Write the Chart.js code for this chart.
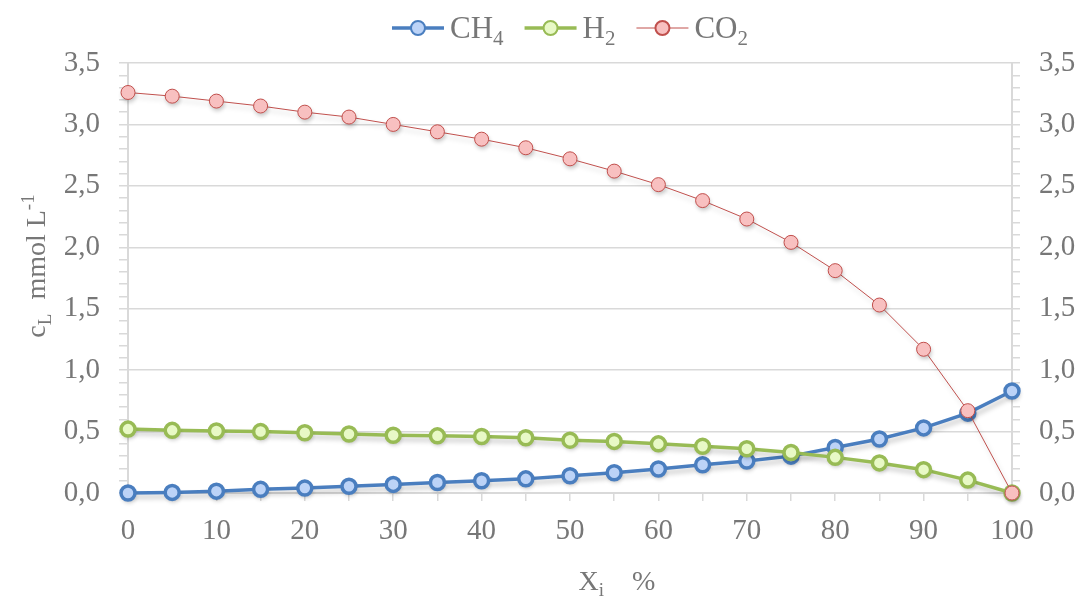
<!DOCTYPE html>
<html>
<head>
<meta charset="utf-8">
<script src="https://cdn.jsdelivr.net/npm/chart.js@4"></script>
<style>
  html, body { margin: 0; padding: 0; background: #fff; }
  #wrap { width: 1082px; height: 597px; }
</style>
</head>
<body>
<div id="wrap"><canvas id="chart"></canvas></div>
<script>
// data
var xValues = [0, 5, 10, 15, 20, 25, 30, 35, 40, 45, 50, 55, 60, 65, 70, 75, 80, 85, 90, 95, 100];
var ch4 = [0.00, 0.005, 0.015, 0.03, 0.04, 0.055, 0.07, 0.085, 0.10, 0.115, 0.14, 0.165, 0.195, 0.23, 0.26, 0.30, 0.37, 0.44, 0.53, 0.65, 0.83];
var h2 = [0.52, 0.51, 0.505, 0.50, 0.49, 0.48, 0.47, 0.465, 0.46, 0.45, 0.43, 0.42, 0.40, 0.38, 0.36, 0.33, 0.29, 0.245, 0.19, 0.105, 0.00];
var co2 = [3.26, 3.23, 3.19, 3.15, 3.10, 3.06, 3.00, 2.94, 2.88, 2.81, 2.72, 2.62, 2.51, 2.38, 2.23, 2.04, 1.81, 1.53, 1.17, 0.67, 0.00];
var seriesNames = ['CH4', 'H2', 'CO2'];

var FONT = "'Liberation Serif', 'Times New Roman', serif";
var TEXT = '#777777';
var GRID = '#d9d9d9';

function pts(ys) {
    return xValues.map(function (x, i) { return { x: x, y: ys[i] }; });
}

// draw text made of parts, some of them sub- or superscript
function partSize(p, size) {
    return p.sub || p.sup ? Math.round(size * 0.68) : size;
}
function richWidth(ctx, parts, size) {
    var w = 0;
    parts.forEach(function (p) {
        ctx.font = partSize(p, size) + 'px ' + FONT;
        w += ctx.measureText(p.t).width;
    });
    return w;
}
function drawRich(ctx, parts, x, y, size) {
    parts.forEach(function (p) {
        ctx.font = partSize(p, size) + 'px ' + FONT;
        var dy = p.sub ? size * 0.22 : (p.sup ? -size * 0.38 : 0);
        ctx.fillText(p.t, x, y + dy);
        x += ctx.measureText(p.t).width;
    });
}
function chemParts(name) {
    var m = name.match(/^([A-Za-z]+)(\d*)$/);
    var parts = [{ t: m[1] }];
    if (m[2]) parts.push({ t: m[2], sub: true });
    return parts;
}

// markers: soft shadow disc first, then the marker itself without shadow
var baseDraw = Chart.PointElement.prototype.draw;
Chart.PointElement.prototype.draw = function (ctx, area) {
    var o = this.options;
    ctx.save();
    ctx.shadowColor = 'rgba(0,0,0,0.22)';
    ctx.shadowBlur = 4;
    ctx.shadowOffsetX = 1;
    ctx.shadowOffsetY = 3;
    ctx.fillStyle = o.backgroundColor;
    ctx.beginPath();
    ctx.arc(this.x, this.y, o.radius, 0, Math.PI * 2);
    ctx.fill();
    ctx.restore();
    ctx.save();
    ctx.shadowColor = 'rgba(0,0,0,0)';
    baseDraw.call(this, ctx, area);
    ctx.restore();
};

var decor = {
    id: 'decor',
    beforeDatasetsDraw: function (chart) {
        var ctx = chart.ctx;
        ctx.save();
        ctx.shadowColor = 'rgba(0,0,0,0.22)';
        ctx.shadowBlur = 5;
        ctx.shadowOffsetX = 2;
        ctx.shadowOffsetY = 4;
    },
    afterDatasetsDraw: function (chart) {
        chart.ctx.restore();
    },
    afterDraw: function (chart) {
        var ctx = chart.ctx;
        var area = chart.chartArea;
        ctx.save();
        ctx.fillStyle = TEXT;
        ctx.textBaseline = 'alphabetic';
        ctx.textAlign = 'left';

        // legend: line + marker, then name
        var size = 31, lineW = 52, gap = 6, itemGap = 21;
        var order = [0, 1, 2];
        var widths = order.map(function (i) {
            return lineW + gap + richWidth(ctx, chemParts(chart.data.datasets[i].label), size);
        });
        var total = widths.reduce(function (a, b) { return a + b; }, 0) + itemGap * (order.length - 1);
        var x = (area.left + area.right) / 2 - total / 2;
        var ly = 28;
        order.forEach(function (i, k) {
            var ds = chart.data.datasets[i];
            ctx.strokeStyle = ds.borderColor;
            ctx.lineWidth = ds.borderWidth;
            ctx.beginPath();
            ctx.moveTo(x, ly);
            ctx.lineTo(x + lineW, ly);
            ctx.stroke();
            ctx.beginPath();
            ctx.arc(x + lineW / 2, ly, 7, 0, Math.PI * 2);
            ctx.fillStyle = ds.pointBackgroundColor;
            ctx.fill();
            ctx.lineWidth = 2;
            ctx.strokeStyle = ds.pointBorderColor;
            ctx.stroke();
            ctx.fillStyle = TEXT;
            drawRich(ctx, chemParts(ds.label), x + lineW + gap, ly + 10, size);
            x += widths[k] + itemGap;
        });

        // y axis title
        var tsize = 28;
        var yParts = [{ t: 'c' }, { t: 'L', sub: true }, { t: '  mmol L' }, { t: '-1', sup: true }];
        var yw = richWidth(ctx, yParts, tsize);
        ctx.save();
        ctx.translate(45, 266);
        ctx.rotate(-Math.PI / 2);
        drawRich(ctx, yParts, -yw / 2, 0, tsize);
        ctx.restore();

        // x axis title
        var xParts = [{ t: 'X' }, { t: 'i', sub: true }, { t: '    %' }];
        var xw = richWidth(ctx, xParts, tsize);
        drawRich(ctx, xParts, 617 - xw / 2, 590, tsize);
        ctx.restore();
    }
};

function yTickLabel(v) {
    var k = Math.round(v * 10);
    return k % 5 === 0 ? (k / 10).toFixed(1).replace('.', ',') : '';
}
function yGridColor(c) {
    var k = Math.round(c.tick.value * 10);
    return k % 5 === 0 ? GRID : 'rgba(0,0,0,0)';
}

var ctx = document.getElementById('chart').getContext('2d');
var myChart = new Chart(ctx, {
    type: 'line',
    data: {
        datasets: [{
            label: seriesNames[0],
            data: pts(ch4),
            borderColor: '#4a7ebf',
            borderWidth: 3.5,
            pointBackgroundColor: '#bcd3f7',
            pointBorderColor: '#4a7ebf',
            order: 3
        }, {
            label: seriesNames[1],
            data: pts(h2),
            borderColor: '#98bb55',
            borderWidth: 3.5,
            pointBackgroundColor: '#e8f9c6',
            pointBorderColor: '#98bb55',
            order: 2
        }, {
            label: seriesNames[2],
            data: pts(co2),
            borderColor: '#c0504d',
            borderWidth: 1,
            pointBackgroundColor: '#f8c0c0',
            pointBorderColor: '#c0504d',
            order: 1
        }]
    },
    options: {
        responsive: true,
        maintainAspectRatio: false,
        animation: false,
        layout: { padding: { top: 63, left: 0, right: 0, bottom: 0 } },
        elements: {
            line: { tension: 0 },
            point: { radius: 7, borderWidth: 2, hoverRadius: 7 }
        },
        datasets: { line: { clip: false } },
        plugins: {
            legend: { display: false },
            tooltip: { enabled: false }
        },
        scales: {
            x: {
                type: 'linear',
                min: 0,
                max: 100,
                afterFit: function (s) { s.height = 104; },
                border: { color: GRID, width: 2 },
                grid: { drawOnChartArea: false, color: GRID, tickLength: 8, lineWidth: 1.5 },
                ticks: {
                    stepSize: 5,
                    autoSkip: false,
                    maxRotation: 0,
                    padding: 13,
                    color: TEXT,
                    font: { family: FONT, size: 29 },
                    callback: function (v) { return v % 10 === 0 ? v : ''; }
                }
            },
            y: {
                position: 'left',
                min: 0,
                max: 3.5,
                afterFit: function (s) { s.width = 128; },
                border: { color: GRID, width: 2 },
                grid: { color: yGridColor, tickColor: GRID, tickLength: 9, lineWidth: 1.5 },
                ticks: {
                    stepSize: 0.1,
                    autoSkip: false,
                    padding: 19,
                    color: TEXT,
                    font: { family: FONT, size: 29 },
                    callback: yTickLabel
                }
            },
            y2: {
                position: 'right',
                min: 0,
                max: 3.5,
                afterFit: function (s) { s.width = 70; },
                border: { color: GRID, width: 2 },
                grid: { drawOnChartArea: false, color: GRID, tickLength: 8, lineWidth: 1.5 },
                ticks: {
                    stepSize: 0.1,
                    autoSkip: false,
                    padding: 19,
                    color: TEXT,
                    font: { family: FONT, size: 29 },
                    callback: yTickLabel
                }
            }
        }
    },
    plugins: [decor]
});
</script>
</body>
</html>
